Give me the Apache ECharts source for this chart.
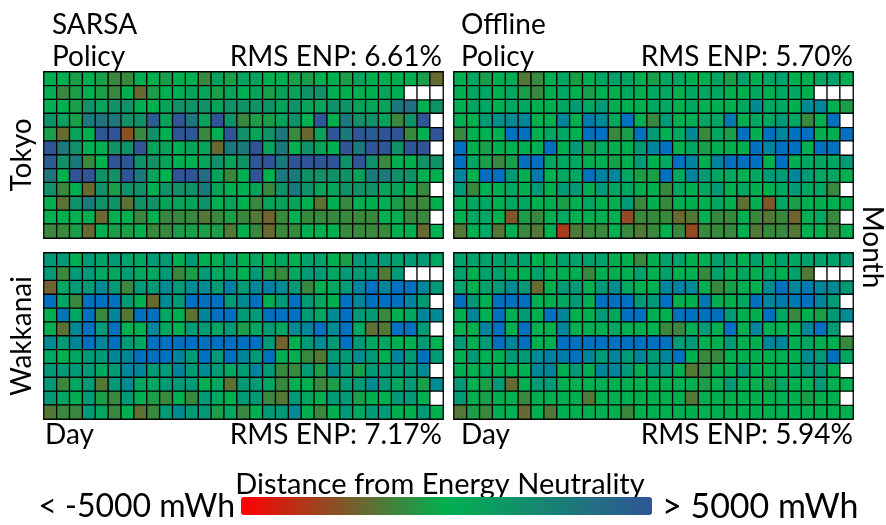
<!DOCTYPE html>
<html>
<head>
<meta charset="utf-8">
<script src="https://cdn.jsdelivr.net/npm/echarts@6/dist/echarts.min.js"></script>
<style>
  html, body { margin: 0; padding: 0; background: #fff; }
  #chart { width: 886px; height: 525px; }
</style>
</head>
<body>
<div id="chart"></div>
<script>
// Daily distance from energy neutrality (mWh), one row per month (Jan..Dec),
// one entry per day of that month.
const dayLabels = Array.from({ length: 31 }, (_, i) => String(i + 1));
const monthLabels = ['Jan', 'Feb', 'Mar', 'Apr', 'May', 'Jun', 'Jul', 'Aug', 'Sep', 'Oct', 'Nov', 'Dec'];

const tokyoSarsa = [
  [0,0,-500,0,-500,-1100,-1100,0,0,-500,0,0,-1100,700,-500,700,700,0,0,-500,-500,0,0,-500,700,0,0,0,0,-500,-2000],
  [0,-1100,-500,0,-500,-1100,0,-2000,-500,0,0,700,700,-500,700,0,700,-500,700,700,1700,1700,0,0,0,0,700,0],
  [0,0,-500,1700,700,1700,1700,0,0,700,1700,1700,1700,700,1700,1700,1700,1700,700,1700,700,700,1700,1700,700,700,700,3000,3600,0,1700],
  [1700,700,-500,3000,3300,3000,1700,1700,4500,700,5000,3300,700,5000,1700,-1100,-500,-500,700,1700,0,5000,0,3000,1700,1700,700,-1100,1700,5000],
  [-500,-2000,700,0,5000,5000,-2700,-1100,1700,0,5000,5000,-1100,0,5000,1700,700,1700,3000,-1100,-2000,700,5000,3000,5000,4500,5000,5000,-1100,0,5000],
  [5000,3000,1700,0,0,1700,1700,5000,700,700,0,700,700,-2000,3000,3000,5000,700,3000,0,1700,700,0,5000,3000,5000,5000,1700,5000,5000],
  [4600,1700,3000,-1100,0,5000,5000,1700,1700,700,0,0,700,1700,700,1700,5000,5000,3000,5000,5000,5000,5000,1700,5000,1700,-1100,0,0,1700,1700],
  [3300,0,5000,5000,1700,1700,5000,3000,700,0,5000,5000,3800,700,-1100,0,5000,0,3000,3000,1700,1700,1700,1700,700,3000,3000,1700,1700,0,0],
  [1700,-1100,0,-2000,1700,-500,1700,1700,0,1700,1700,1700,3000,700,0,0,700,-1100,1700,3000,1700,700,700,1700,1700,1700,700,700,0,-1100],
  [0,-1800,1700,3000,1700,1700,-1800,1700,1700,700,700,700,1700,0,700,0,-1100,700,700,700,0,-1800,0,-1100,0,0,0,-500,-1100,-1100,0],
  [0,0,0,0,-2000,0,0,-1100,0,-1100,-1100,-1100,-1600,-1100,-500,-1100,-1600,-2200,-1100,0,-1100,-1100,-1100,-1100,-1100,-1100,0,0,-1100,-1100],
  [-1100,-1100,-500,-2000,0,-500,-500,0,-1100,-1100,-500,-500,-500,-500,-1600,0,-1100,-2000,-1100,-1100,0,0,0,-1100,-1100,-1100,-1100,0,0,-2000,0]
];

const tokyoOffline = [
  [0,700,-500,0,0,-1600,-1100,0,700,-500,0,700,1200,700,0,-500,700,700,0,0,700,-500,1200,0,700,1200,0,0,700,1200,0],
  [0,700,700,0,700,-500,-1100,0,700,0,-500,0,0,700,0,700,700,0,700,700,700,0,0,700,0,700,700,0],
  [0,700,700,0,700,700,0,0,700,1700,700,1700,0,0,0,700,700,0,700,0,0,0,700,3000,700,700,0,3000,3200,0,-500],
  [0,0,1700,2600,3000,3300,0,0,3300,0,4200,3000,700,5000,0,-1100,1700,0,0,700,700,4200,0,700,700,1700,700,-1100,0,5000],
  [-1100,0,0,0,5000,5000,0,700,700,0,5000,5000,-1100,-500,5000,1700,0,700,3000,-1100,700,-500,5000,0,5000,3300,5000,5000,0,0,5000],
  [5000,0,-500,0,0,0,0,5000,0,1700,-500,700,0,0,1700,3300,5000,0,700,-500,0,0,0,5000,3300,5000,5000,0,5000,5000],
  [5000,700,-500,-1100,-500,5000,5000,700,700,700,0,0,-500,0,1700,0,700,5000,3500,0,3500,5000,5000,5000,0,5000,0,700,700,700,1700],
  [3300,0,5000,5000,1700,0,4200,0,700,700,5000,3500,3300,700,-500,-500,5000,700,3500,1700,700,700,0,700,1700,1700,3300,1700,700,700,0],
  [1700,-1100,0,0,700,0,1700,0,1700,1700,0,1700,700,700,0,0,-1100,700,0,700,1700,0,700,0,0,700,1700,700,700,-1100],
  [0,700,700,0,700,700,0,0,-500,0,700,0,0,1700,-1100,0,-1100,0,0,0,700,0,-1800,0,-2500,700,-500,0,0,0,0],
  [0,700,700,0,-2500,-500,-1100,0,700,0,0,0,0,-2900,-1100,-1100,-1100,-2000,-1600,0,-1100,-1100,0,-1100,-1600,-1100,-2200,0,700,-1100],
  [-1600,0,700,-1600,0,-1100,-1600,0,-3300,-1600,-1100,-1100,0,-1100,-1600,-1100,0,-1100,-2900,-1100,-1100,-1100,0,-1600,-1100,-1100,-1600,0,0,-1100,0]
];

const wakkanaiSarsa = [
  [1700,1700,0,1700,1200,1700,1200,700,1700,1700,0,1700,0,0,1200,0,700,0,700,0,1200,1200,0,-500,1700,1700,1700,1200,1700,1700,700],
  [1700,-1100,1700,1700,700,700,1700,700,700,1700,-1100,-500,1700,700,700,0,1700,-500,-1100,700,1700,1700,700,1700,1700,1700,-1600,1700],
  [-2200,700,1700,1700,3000,1700,-1100,1700,1700,3000,1700,3000,3000,1700,3800,1700,3300,3800,3000,1700,-1100,0,700,1700,3300,5000,3300,5000,5000,3300,1700],
  [5000,700,-1100,5000,5000,5000,1700,0,-2000,3000,1700,5000,5000,5000,1700,3000,5000,0,1700,5000,1700,700,0,5000,3300,5000,5000,5000,3300,1700],
  [0,4500,700,5000,-1100,3300,-1600,5000,5000,700,0,-1800,3300,5000,5000,1700,1700,5000,5000,5000,1700,700,3000,5000,1700,1700,-1100,0,700,3300,3000],
  [0,-1800,3300,5000,1700,5000,0,0,3300,700,0,1700,1700,700,1700,-500,700,1700,700,3000,3300,5000,3000,5000,700,-1800,-1600,5000,5000,1700],
  [3000,1700,3300,5000,3300,5000,1700,700,5000,5000,5000,5000,5000,5000,5000,5000,5000,1700,-2200,0,1700,3000,1700,5000,1700,700,700,0,0,1700,0],
  [700,0,700,1700,1700,3300,3300,5000,5000,5000,3300,1700,5000,1700,5000,3300,1700,5000,0,0,-1100,-1600,1700,1700,3000,1700,0,3300,1700,5000,1700],
  [1700,1700,1700,1700,700,1700,3300,3300,1700,1700,3300,1700,3000,1700,700,1700,3300,1700,-1100,-1100,1700,-500,3000,1700,-500,1700,1700,1700,1700,3000],
  [1700,-1100,700,1700,-1600,1700,3000,700,700,1700,1700,1700,0,700,-1800,1700,1700,700,-1100,0,0,-1100,-500,1700,1700,3000,1700,700,1700,-500,3000],
  [1700,700,0,1700,-500,-1100,1700,0,-500,-1100,0,-1100,1700,700,0,1700,1700,-1100,-1600,1700,700,0,1700,1700,-500,0,0,1700,1700,0],
  [-1600,-1100,-1100,1700,700,-1100,0,-1800,-1100,1700,3000,1700,1700,-500,700,-1100,0,1700,1700,3000,0,-1100,0,1700,700,1700,1700,0,0,1700,0]
];

const wakkanaiOffline = [
  [1200,1200,1200,1200,1200,1200,0,0,1200,1200,1200,1200,0,0,-1100,0,1200,1200,0,0,1200,700,0,1200,0,1200,700,1200,1200,1200,1700],
  [1200,0,1200,1200,0,0,1200,0,0,0,-1100,0,0,0,1200,0,1200,0,0,-1100,1200,0,700,0,700,0,1200,-1600],
  [1200,0,1200,1700,3000,1700,-2000,0,1700,1700,0,1700,3000,700,0,0,3300,3700,3000,0,-1100,-500,0,0,3000,5000,3300,4200,3300,3000,1700],
  [5000,1700,0,5000,5000,5000,0,0,700,1700,0,5000,5000,5000,1700,1700,5000,0,0,4200,0,0,700,5000,3300,4200,4200,5000,3300,1700],
  [0,3300,0,5000,0,1700,0,5000,3300,0,0,1700,700,5000,5000,0,0,5000,5000,5000,5000,1700,0,0,5000,700,-1100,0,-500,1700,3000],
  [0,0,3300,5000,0,5000,0,0,3300,0,0,0,700,0,0,0,-1100,-1100,0,1700,0,5000,0,3300,0,0,0,3300,5000,1700],
  [1700,0,1700,5000,3300,5000,0,0,5000,5000,5000,5000,5000,5000,5000,5000,5000,1700,1700,0,0,1700,0,0,3300,3300,0,700,0,0,-1100],
  [0,1700,0,0,1700,1700,3000,3700,4000,5000,3300,1700,3300,1700,3300,1700,3300,5000,0,-1100,-1100,0,0,0,0,0,0,3000,1700,5000,700],
  [0,0,700,0,0,0,3300,3300,0,1700,0,3300,3300,1700,0,1700,1700,0,-1600,-1100,0,0,1700,0,0,0,700,1700,1700,0],
  [1700,0,-500,1700,-2000,0,1700,1700,0,0,0,0,0,0,0,0,0,0,0,-500,0,1700,0,0,-500,700,0,0,1700,0,0],
  [1700,0,-500,0,0,-1100,0,0,0,0,-1600,0,0,0,0,0,0,0,-1600,0,0,0,0,0,0,0,0,-500,0,0],
  [-1600,-500,-1100,0,0,-2000,0,-1600,0,0,0,0,0,-1100,0,0,0,0,0,0,0,0,0,0,0,0,0,0,0,0,0]
];

const panelTitles = ['SARSA', 'Offline'];
const rmsEnp = ['6.61%', '5.70%', '7.17%', '5.94%'];
const cityNames = ['Tokyo', 'Wakkanai'];
const scaleMin = -5000;
const scaleMax = 5000;

// Layout of the 2x2 panel grid (pixels)
const panels = [
  { data: tokyoSarsa,      left: 44,  top: 72 },
  { data: tokyoOffline,    left: 454, top: 72 },
  { data: wakkanaiSarsa,   left: 44,  top: 253 },
  { data: wakkanaiOffline, left: 454, top: 253 }
];
const panelW = 399, panelH = 166;

const FONT = 'Lato, "Noto Sans", sans-serif';
const FS = 28;

const grids = [], xAxes = [], yAxes = [], valueSeries = [], blankSeries = [];
panels.forEach((p, i) => {
  grids.push({ left: p.left, top: p.top, width: panelW, height: panelH, show: false });
  xAxes.push({ type: 'category', gridIndex: i, data: dayLabels, show: false });
  yAxes.push({ type: 'category', gridIndex: i, data: monthLabels, inverse: true, show: false });
  const cells = [], blanks = [];
  p.data.forEach((row, m) => {
    row.forEach((v, d) => cells.push([d, m, v]));
    for (let d = row.length; d < dayLabels.length; d++) blanks.push([d, m, 0]);
  });
  const cellStyle = { borderColor: '#000', borderWidth: 1.3 };
  valueSeries.push({
    type: 'heatmap', xAxisIndex: i, yAxisIndex: i, data: cells,
    itemStyle: cellStyle, emphasis: { disabled: true }, silent: true
  });
  blankSeries.push({
    type: 'heatmap', xAxisIndex: i, yAxisIndex: i, data: blanks,
    itemStyle: Object.assign({ color: '#fff' }, cellStyle), emphasis: { disabled: true }, silent: true
  });
});

function label(text, x, y, opts) {
  opts = opts || {};
  const el = {
    type: 'text', x: x, y: y, silent: true,
    style: Object.assign({
      text: text, fill: '#000', font: (opts.size || FS) + 'px ' + FONT,
      align: 'left', verticalAlign: 'middle'
    }, opts.style || {})
  };
  if (opts.rotation !== undefined) el.rotation = opts.rotation;
  return el;
}

const texts = [
  label(panelTitles[0], 52, 25),
  label(panelTitles[1], 461, 25),
  label('Policy', 52, 57),
  label('Policy', 461, 57),
  label('RMS ENP: ' + rmsEnp[0], 442, 57, { style: { align: 'right' } }),
  label('RMS ENP: ' + rmsEnp[1], 853, 57, { style: { align: 'right' } }),
  label('Day', 45, 435),
  label('Day', 461, 435),
  label('RMS ENP: ' + rmsEnp[2], 442, 435, { style: { align: 'right' } }),
  label('RMS ENP: ' + rmsEnp[3], 853, 435, { style: { align: 'right' } }),
  label(cityNames[0], 22, 155, { rotation: Math.PI / 2, style: { align: 'center' } }),
  label(cityNames[1], 22, 336, { rotation: Math.PI / 2, style: { align: 'center' } }),
  label('Month', 872, 247, { rotation: -Math.PI / 2, style: { align: 'center' } }),
  label('Distance from Energy Neutrality', 440, 485, { size: 29, style: { align: 'center' } }),
  label('< -5000 mWh', 235, 507, { size: 32, style: { align: 'right' } }),
  label('> 5000 mWh', 662, 507, { size: 34 })
];

const chart = echarts.init(document.getElementById('chart'), null, { renderer: 'canvas' });
chart.setOption({
  animation: false,
  backgroundColor: '#fff',
  grid: grids,
  xAxis: xAxes,
  yAxis: yAxes,
  visualMap: [
    {
      type: 'continuous', min: scaleMin, max: scaleMax, seriesIndex: [0],
      orient: 'horizontal', left: 241, top: 497, padding: 0,
      itemWidth: 18, itemHeight: 411, calculable: false, hoverLink: false,
      showLabel: false, text: null,
      inRange: { color: ['#ff0000', '#00b050', '#2f5597'] }
    },
    {
      type: 'continuous', min: scaleMin, max: scaleMax, seriesIndex: [1, 2, 3],
      show: false,
      inRange: { color: ['#ff0000', '#00b050', '#0070c0'] }
    }
  ],
  series: valueSeries.concat(blankSeries),
  graphic: texts
});
</script>
</body>
</html>
